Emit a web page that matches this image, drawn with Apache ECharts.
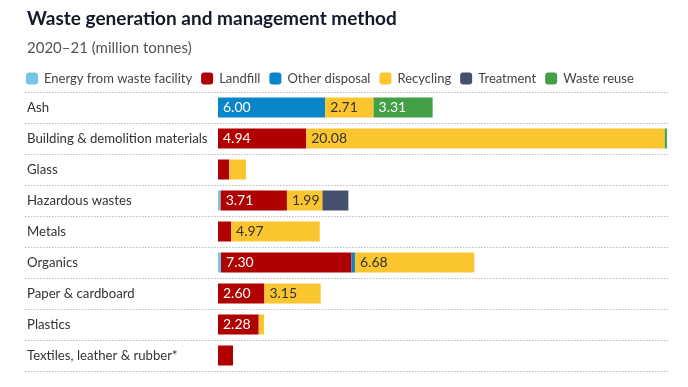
<!DOCTYPE html>
<html><head><meta charset="utf-8">
<script src="https://cdn.jsdelivr.net/npm/echarts@6/dist/echarts.min.js"></script>
<style>html,body{margin:0;padding:0;background:#fff}#c{width:688px;height:387px}</style>
</head><body><div id="c"></div>
<script>
const categories = ['Ash','Building & demolition materials','Glass','Hazardous wastes','Metals','Organics','Paper & cardboard','Plastics','Textiles, leather & rubber*'];
const energyFromWaste = [0,0,0,0.15,0,0.17,0,0,0];
const landfill = [0,4.94,0.62,3.71,0.73,7.30,2.60,2.28,0.84];
const otherDisposal = [6.00,0,0,0,0,0.20,0,0,0];
const recycling = [2.71,20.08,0.95,1.99,4.97,6.68,3.15,0.30,0];
const treatment = [0,0,0,1.45,0,0,0,0,0];
const wasteReuse = [3.31,0.12,0,0,0,0,0,0,0];

const seriesDefs = [
  ['Energy from waste facility', energyFromWaste, '#76c6e3', '#fff'],
  ['Landfill', landfill, '#b00000', '#fff'],
  ['Other disposal', otherDisposal, '#0b85c9', '#fff'],
  ['Recycling', recycling, '#fbc52f', '#333'],
  ['Treatment', treatment, '#474f6e', '#fff'],
  ['Waste reuse', wasteReuse, '#43a047', '#fff']
];
const font = "Lato, 'Noto Sans', sans-serif";
const chart = echarts.init(document.getElementById('c'));
chart.setOption({
  animation: false,
  title: [
    {text: 'Waste generation and management method', left: 22, top: 4,
     textStyle: {fontFamily: font, fontSize: 19, fontWeight: 'bold', color: '#14182b'}},
    {text: '2020–21 (million tonnes)', left: 22, top: 36,
     textStyle: {fontFamily: font, fontSize: 15, fontWeight: 'normal', color: '#555'}}
  ],
  legend: {
    left: 21, top: 67, itemWidth: 12, itemHeight: 12, itemGap: 9, icon: 'roundRect',
    textStyle: {fontFamily: font, fontSize: 13, color: '#444', padding: [0,0,0,1]},
    data: seriesDefs.map(d => d[0])
  },
  grid: [
    {left: 25, right: 20, top: 92, height: 279},
    {left: 218, right: 20, top: 92, height: 279}
  ],
  xAxis: [
    {gridIndex: 0, type: 'value', show: false, min: 0, max: 1},
    {gridIndex: 1, type: 'value', show: false, min: 0, max: 25.2}
  ],
  yAxis: [
    {gridIndex: 0, type: 'category', data: categories, inverse: true,
     axisLine: {show: false}, axisTick: {show: false},
     axisLabel: {inside: true, align: 'left', margin: 2, fontFamily: font, fontSize: 13.2, color: '#333'},
     splitLine: {show: true, lineStyle: {type: [1.5, 1.5], color: '#bbb', width: 1}}},
    {gridIndex: 1, type: 'category', data: categories, inverse: true, show: false}
  ],
  series: seriesDefs.map(d => ({
    name: d[0], type: 'bar', stack: 'all', xAxisIndex: 1, yAxisIndex: 1,
    barWidth: 20,
    itemStyle: {color: d[2]},
    data: d[1],
    label: {show: true, position: 'insideLeft', distance: 5,
      fontFamily: font, fontSize: 14, color: d[3],
      formatter: p => p.value >= 1.5 ? p.value.toFixed(2) : ''}
  }))
});
</script></body></html>
